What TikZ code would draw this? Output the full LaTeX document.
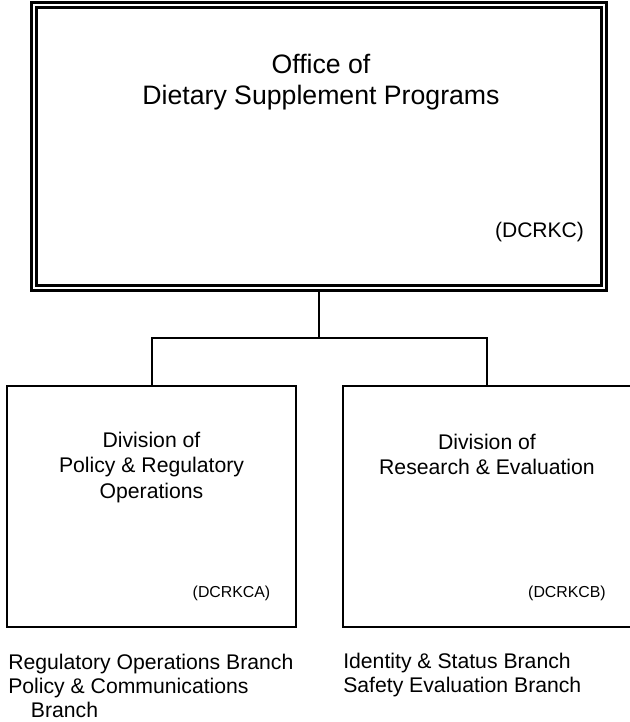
\documentclass[tikz,border=0pt]{standalone}
\usepackage{fontspec}
\setmainfont{Liberation Sans}

\begin{document}
\begin{tikzpicture}[x=0.75pt, y=-0.75pt,
  office box/.style={draw, double, line width=2.2pt, double distance=1.8pt, minimum width=427.5pt, minimum height=212.25pt, inner sep=0},
  div box/.style={draw, line width=1.5pt, minimum width=216.75pt, minimum height=180.75pt, inner sep=0},
  big text/.style={inner sep=0, align=center, font=\fontsize{20}{23.25}\selectfont},
  div text/.style={inner sep=0, align=center, font=\fontsize{15.9}{19.1}\selectfont},
  branch text/.style={inner sep=0, align=left, anchor=west, font=\fontsize{15.9}{18.2}\selectfont},
  code text/.style={inner sep=0, font=\fontsize{11.9}{14}\selectfont}]
\useasboundingbox (0,0) rectangle (630,722);

% office
\node[office box] (office) at (319,146.5) {};
\node[big text] (officename) at (321,82.5) {Office of\\Dietary Supplement Programs};
\node[code text, font=\fontsize{15.8}{18}\selectfont] (officecode) at (539.5,232) {(DCRKC)};

% divisions
\node[div box] (polreg) at (151.5,506.5) {};
\node[div text] (polregname) at (151.5,467.5) {Division of\\Policy \& Regulatory\\Operations};
\node[code text] (polregcode) at (231.5,593) {(DCRKCA)};

\node[div box] (reseval) at (487,506.5) {};
\node[div text] (resevalname) at (487,454.5) {Division of\\Research \& Evaluation};
\node[code text] (resevalcode) at (567,593) {(DCRKCB)};

% branches
\node[branch text] (polregbr) at (8,686) {Regulatory Operations Branch\\Policy \& Communications\\\hspace*{17pt}Branch};
\node[branch text] (resevalbr) at (343,675) {Identity \& Status Branch\\Safety Evaluation Branch};

% lines
\coordinate (split) at (319,338);
\draw[line width=1.5pt] (office.south) -- (split);
\draw[line width=1.5pt] (split) -| (polreg.north);
\draw[line width=1.5pt] (split) -| (reseval.north);

\end{tikzpicture}
\end{document}
